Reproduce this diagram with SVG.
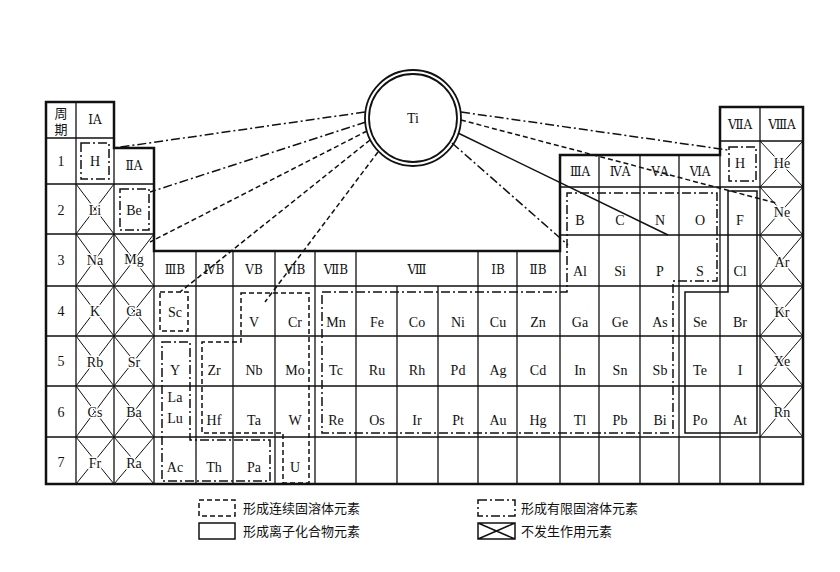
<svg xmlns="http://www.w3.org/2000/svg" width="840" height="572" viewBox="0 0 840 572">
<style>
.t{font-family:"Liberation Serif","DejaVu Serif",serif;font-size:14px;fill:#111;text-anchor:middle;dominant-baseline:central;paint-order:stroke;stroke:#fff;stroke-width:3px;stroke-linejoin:round}
.r{font-family:"DejaVu Serif",serif;font-size:12px}
.c{font-family:"Noto Sans CJK SC",sans-serif;font-size:13px;fill:#111}
.o{fill:none;stroke:#111;stroke-width:2.5}
.g{fill:none;stroke:#111;stroke-width:1.3}
.x{fill:none;stroke:#111;stroke-width:1}
.d{fill:none;stroke:#111;stroke-width:1.5;stroke-dasharray:5,3}
.dd{fill:none;stroke:#111;stroke-width:1.5;stroke-dasharray:9,3,2,3}
.s{fill:none;stroke:#111;stroke-width:1.5}
</style>
<rect width="840" height="572" fill="#fff"/>
<g id="table">
<path class="g" d="M46,138H114M46,184H154M46,234H154M720,141H803M560,187H803M560,235H803M46,286H803M46,336H803M46,386H803M46,437H803
M76,102V484M114,148V484M154,251V484M196,251V484M233,251V484M275,251V484M315,251V484M356,251V484M397,286V484M438,286V484M478,251V484M517,251V484M560,251V484M599,155V484M640,155V484M679,155V484M720,155V484M760,107V484"/>
<path class="x" d="M76,184L114,234M114,184L76,234M76,234L114,286M114,234L76,286M76,286L114,336M114,286L76,336M76,336L114,386M114,336L76,386M76,386L114,437M114,386L76,437M76,437L114,484M114,437L76,484
M114,234L154,286M154,234L114,286M114,286L154,336M154,286L114,336M114,336L154,386M154,336L114,386M114,386L154,437M154,386L114,437M114,437L154,484M154,437L114,484
M760,141L803,187M803,141L760,187M760,187L803,235M803,187L760,235M760,235L803,286M803,235L760,286M760,286L803,336M803,286L760,336M760,336L803,386M803,336L760,386M760,386L803,437M803,386L760,437"/>
<path class="o" d="M46,102H114V148H154V251H560V155H720V107H803V484H46Z"/>
</g>
<g id="labels">
<text class="c" x="61" y="112" text-anchor="middle" dominant-baseline="central" font-size="11">周</text>
<text class="c" x="61" y="128" text-anchor="middle" dominant-baseline="central" font-size="11">期</text>
<text class="t r" x="95" y="120">ⅠA</text><text class="t r" x="134" y="166">ⅡA</text>
<text class="t r" x="740" y="125">ⅦA</text><text class="t r" x="782" y="125">ⅧA</text>
<text class="t r" x="580" y="172">ⅢA</text><text class="t r" x="620" y="172">ⅣA</text><text class="t r" x="660" y="172">ⅤA</text><text class="t r" x="700" y="172">ⅥA</text>
<text class="t r" x="175" y="270">ⅢB</text><text class="t r" x="214" y="270">ⅣB</text><text class="t r" x="254" y="270">ⅤB</text><text class="t r" x="295" y="270">ⅥB</text><text class="t r" x="336" y="270">ⅦB</text><text class="t r" x="417" y="270">Ⅷ</text><text class="t r" x="498" y="270">ⅠB</text><text class="t r" x="538" y="270">ⅡB</text>
<text class="t" x="61" y="161">1</text><text class="t" x="61" y="210">2</text><text class="t" x="61" y="260">3</text><text class="t" x="61" y="311">4</text><text class="t" x="61" y="361">5</text><text class="t" x="61" y="412">6</text><text class="t" x="61" y="462">7</text>
<text class="t" x="95" y="161">H</text><text class="t" x="95" y="210">Li</text><text class="t" x="95" y="260">Na</text><text class="t" x="95" y="311">K</text><text class="t" x="95" y="362">Rb</text><text class="t" x="95" y="412">Cs</text><text class="t" x="95" y="463">Fr</text>
<text class="t" x="134" y="210">Be</text><text class="t" x="134" y="259">Mg</text><text class="t" x="134" y="311">Ca</text><text class="t" x="134" y="362">Sr</text><text class="t" x="134" y="412">Ba</text><text class="t" x="134" y="463">Ra</text>
<text class="t" x="740" y="163">H</text><text class="t" x="782" y="163">He</text><text class="t" x="782" y="212">Ne</text><text class="t" x="782" y="262">Ar</text><text class="t" x="782" y="312">Kr</text><text class="t" x="782" y="361">Xe</text><text class="t" x="782" y="412">Rn</text>
<text class="t" x="580" y="220">B</text><text class="t" x="620" y="220">C</text><text class="t" x="660" y="220">N</text><text class="t" x="700" y="220">O</text><text class="t" x="740" y="220">F</text>
<text class="t" x="580" y="271">Al</text><text class="t" x="620" y="271">Si</text><text class="t" x="660" y="271">P</text><text class="t" x="700" y="271">S</text><text class="t" x="740" y="271">Cl</text>
<text class="t" x="175" y="312">Sc</text><text class="t" x="254" y="322">V</text><text class="t" x="295" y="322">Cr</text><text class="t" x="336" y="322">Mn</text><text class="t" x="377" y="322">Fe</text><text class="t" x="417" y="322">Co</text><text class="t" x="458" y="322">Ni</text><text class="t" x="498" y="322">Cu</text><text class="t" x="538" y="322">Zn</text><text class="t" x="580" y="322">Ga</text><text class="t" x="620" y="322">Ge</text><text class="t" x="660" y="322">As</text><text class="t" x="700" y="322">Se</text><text class="t" x="740" y="322">Br</text>
<text class="t" x="175" y="370">Y</text><text class="t" x="214" y="370">Zr</text><text class="t" x="254" y="370">Nb</text><text class="t" x="295" y="370">Mo</text><text class="t" x="336" y="370">Tc</text><text class="t" x="377" y="370">Ru</text><text class="t" x="417" y="370">Rh</text><text class="t" x="458" y="370">Pd</text><text class="t" x="498" y="370">Ag</text><text class="t" x="538" y="370">Cd</text><text class="t" x="580" y="370">In</text><text class="t" x="620" y="370">Sn</text><text class="t" x="660" y="370">Sb</text><text class="t" x="700" y="370">Te</text><text class="t" x="740" y="370">I</text>
<text class="t" x="175" y="397">La</text><text class="t" x="175" y="418">Lu</text><text class="t" x="214" y="420">Hf</text><text class="t" x="254" y="420">Ta</text><text class="t" x="295" y="420">W</text><text class="t" x="336" y="420">Re</text><text class="t" x="377" y="420">Os</text><text class="t" x="417" y="420">Ir</text><text class="t" x="458" y="420">Pt</text><text class="t" x="498" y="420">Au</text><text class="t" x="538" y="420">Hg</text><text class="t" x="580" y="420">Tl</text><text class="t" x="620" y="420">Pb</text><text class="t" x="660" y="420">Bi</text><text class="t" x="700" y="420">Po</text><text class="t" x="740" y="420">At</text>
<text class="t" x="175" y="467">Ac</text><text class="t" x="214" y="467">Th</text><text class="t" x="254" y="467">Pa</text><text class="t" x="295" y="467">U</text>
</g>
<g id="regions">
<rect class="dd" x="81" y="143" width="28" height="36"/>
<rect class="dd" x="120" y="189" width="29" height="41"/>
<rect class="d" x="160" y="292" width="28" height="39"/>
<path class="d" d="M241,293H309V483H283V433H202V342H241Z"/>
<path class="dd" d="M162,342H190V440H270V481H162Z"/>
<path class="dd" d="M322,292H567V193H717V281H673V433H322Z"/>
<rect class="dd" x="729" y="147" width="27" height="34"/>
<path class="s" d="M728,191H757V433H685V292H728Z"/>
</g>
<g id="Ti">
<circle cx="413" cy="118" r="48" fill="#fff" stroke="#111" stroke-width="1.8"/>
<circle cx="413" cy="118" r="44" fill="none" stroke="#111" stroke-width="1.8"/>
<text class="t" x="413" y="118">Ti</text>
</g>
<g id="connectors">
<path class="dd" d="M365,112L114,148"/>
<path class="dd" d="M366,122L150,192"/>
<path class="d" d="M367,131L150,242"/>
<path class="d" d="M370,140L180,292"/>
<path class="d" d="M378,152L265,302"/>
<path class="dd" d="M461,112L728,150"/>
<path class="d" d="M461,120L776,203"/>
<path class="s" d="M458,133L668,235"/>
<path class="dd" d="M452,143L568,245"/>
</g>
<g id="legend">
<rect class="d" x="199" y="500" width="36" height="16"/>
<text class="c" x="243" y="513">形成连续固溶体元素</text>
<rect class="s" x="199" y="523" width="36" height="16"/>
<text class="c" x="243" y="536">形成离子化合物元素</text>
<rect class="dd" x="478" y="500" width="37" height="16"/>
<text class="c" x="521" y="513">形成有限固溶体元素</text>
<path class="s" d="M478,523H515V539H478ZM478,523L515,539M515,523L478,539"/>
<text class="c" x="521" y="536">不发生作用元素</text>
</g>
</svg>
